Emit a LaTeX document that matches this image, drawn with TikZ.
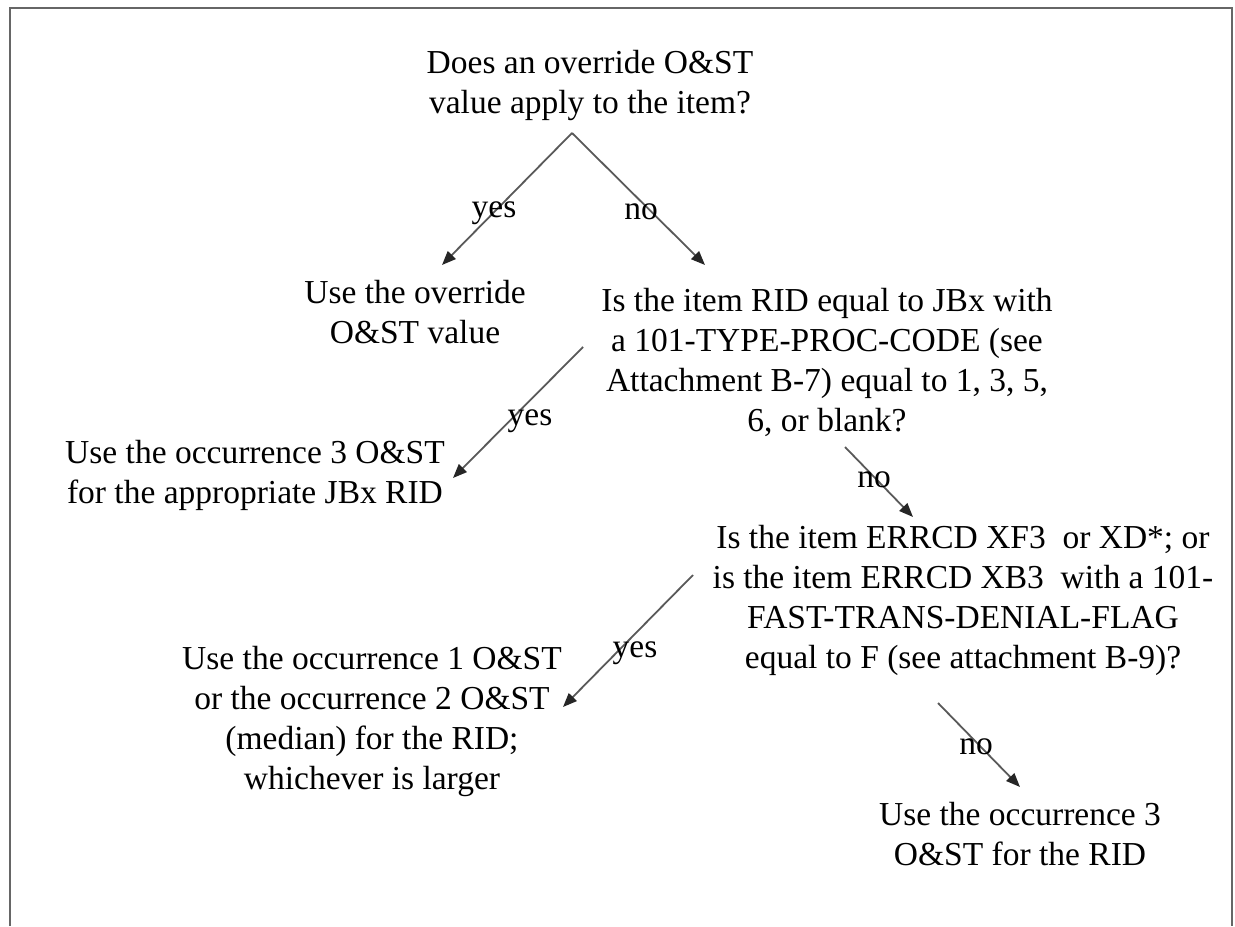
\documentclass[tikz,border=0pt]{standalone}
\usepackage{fontspec}
\setmainfont{Liberation Serif}
\usetikzlibrary{arrows.meta}

\begin{document}
\begin{tikzpicture}[
    x=0.5pt,
    y=-0.5pt,
    font=\fontsize{16.75}{20}\selectfont,
    question/.style={
        align=center,
        inner sep=0pt
    },
    answer/.style={
        align=center,
        inner sep=0pt
    },
    choice/.style={
        inner sep=0pt
    },
    arrow/.style={
        -{Triangle[length=7pt,width=5.5pt,color=black!85]},
        line width=0.9pt,
        draw=black!65
    }
]
\useasboundingbox (0,0) rectangle (1235,926);

% frame, open at the bottom
\draw[black!60, line width=1pt] (10,926) -- (10,8) -- (1232,8) -- (1232,926);

% questions
\node[question] (override) at (590,85) {
    Does an override O\&ST\\
    value apply to the item?
};
\node[question] (jbx) at (827,362) {
    Is the item RID equal to JBx with\\
    a 101-TYPE-PROC-CODE (see\\
    Attachment B-7) equal to 1, 3, 5,\\
    6, or blank?
};
\node[question] (errcd) at (963,600) {
    Is the item ERRCD XF3\ \ or XD*; or\\
    is the item ERRCD XB3\ \ with a 101-\\
    FAST-TRANS-DENIAL-FLAG\\
    equal to F (see attachment B-9)?
};

% answers
\node[answer] (useover) at (415,312) {
    Use the override\\
    O\&ST value
};
\node[answer] (usejbx) at (255,475) {
    Use the occurrence 3 O\&ST\\
    for the appropriate JBx RID
};
\node[answer] (uselarger) at (372,721) {
    Use the occurrence 1 O\&ST\\
    or the occurrence 2 O\&ST\\
    (median) for the RID;\\
    whichever is larger
};
\node[answer] (usethree) at (1020,834) {
    Use the occurrence 3\\
    O\&ST for the RID
};

% arrow ends
\coordinate (override-out) at (572,133);
\coordinate (useover-in) at (442,265);
\coordinate (jbx-in) at (705,265);
\coordinate (jbx-yes) at (583,347);
\coordinate (usejbx-in) at (453,478);
\coordinate (jbx-no) at (845,447);
\coordinate (errcd-in) at (913,517);
\coordinate (errcd-yes) at (693,575);
\coordinate (uselarger-in) at (563,707);
\coordinate (errcd-no) at (938,703);
\coordinate (usethree-in) at (1020,787);

\draw[arrow] (override-out) -- (useover-in);
\draw[arrow] (override-out) -- (jbx-in);
\draw[arrow] (jbx-yes) -- (usejbx-in);
\draw[arrow] (jbx-no) -- (errcd-in);
\draw[arrow] (errcd-yes) -- (uselarger-in);
\draw[arrow] (errcd-no) -- (usethree-in);

% labels
\node[choice] (yes1) at (494,213) {yes};
\node[choice] (no1) at (641,212) {no};
\node[choice] (yes2) at (530,421) {yes};
\node[choice] (no2) at (874,480) {no};
\node[choice] (yes3) at (635,653) {yes};
\node[choice] (no3) at (976,747) {no};

\end{tikzpicture}
\end{document}
